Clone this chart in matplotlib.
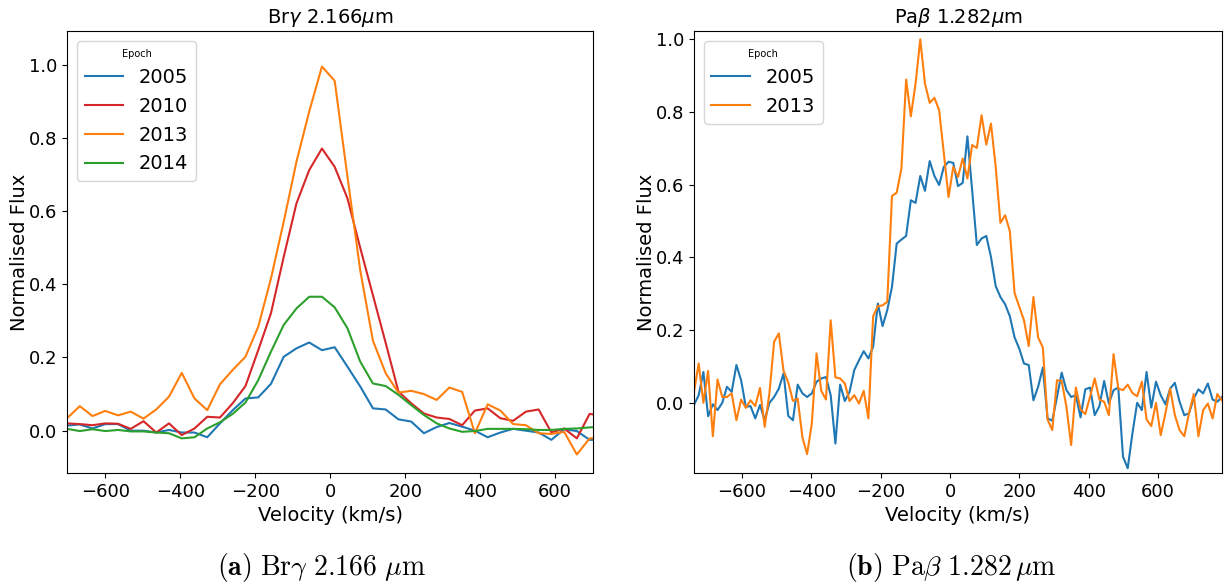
import matplotlib
matplotlib.use("Agg")
import matplotlib.pyplot as plt

# Br-gamma 2.166 um profiles (velocity in km/s, normalised flux)
bry_velocity = [-702, -668, -634, -600, -566, -532, -498, -464, -430, -396,
                -362, -328, -294, -260, -226, -192, -158, -124, -90, -56,
                -22, 12, 46, 80, 114, 148, 182, 216, 250, 284,
                318, 352, 386, 420, 454, 488, 522, 556, 590, 624,
                658, 692, 726]
bry_2005 = [0.014, 0.017, 0.006, 0.018, 0.018, 0.0, 0.0, -0.005, 0.002, -0.005,
            -0.005, -0.018, 0.020, 0.056, 0.088, 0.091, 0.128, 0.202, 0.225, 0.241,
            0.220, 0.228, 0.175, 0.121, 0.061, 0.058, 0.031, 0.025, -0.007, 0.010,
            0.021, 0.011, 0.000, -0.018, -0.005, 0.005, 0.0, -0.005, -0.025, 0.004,
            -0.001, -0.025, -0.025]
bry_2010 = [0.020, 0.018, 0.015, 0.020, 0.019, 0.005, 0.026, -0.005, 0.020, -0.012,
            0.006, 0.038, 0.036, 0.075, 0.122, 0.220, 0.321, 0.475, 0.621, 0.712,
            0.771, 0.721, 0.635, 0.50, 0.37, 0.24, 0.107, 0.075, 0.047, 0.036,
            0.032, 0.015, 0.055, 0.061, 0.034, 0.027, 0.052, 0.058, -0.005, 0.006,
            -0.021, 0.046, 0.040]
bry_2013 = [0.034, 0.067, 0.040, 0.054, 0.042, 0.052, 0.033, 0.058, 0.093, 0.158,
            0.088, 0.056, 0.127, 0.166, 0.202, 0.284, 0.416, 0.571, 0.735, 0.872,
            0.995, 0.956, 0.694, 0.439, 0.246, 0.157, 0.104, 0.109, 0.100, 0.084,
            0.118, 0.106, -0.007, 0.072, 0.055, 0.018, 0.015, -0.007, -0.009, -0.003,
            -0.065, -0.021, -0.020]
bry_2014 = [0.005, -0.001, 0.004, -0.001, 0.002, -0.002, -0.002, -0.005, -0.007, -0.021,
            -0.018, 0.006, 0.023, 0.046, 0.077, 0.138, 0.216, 0.289, 0.334, 0.366,
            0.366, 0.337, 0.28, 0.189, 0.129, 0.122, 0.098, 0.070, 0.043, 0.020,
            0.006, -0.003, -0.001, 0.005, 0.005, 0.005, 0.004, 0.002, 0.002, 0.005,
            0.006, 0.009, 0.011]

# Pa-beta 1.282 um profiles
pab_velocity = [-738.6, -725.0, -711.4, -697.8, -684.2, -670.6, -657.0, -643.4, -629.8, -616.2,
                -602.6, -589.0, -575.4, -561.8, -548.2, -534.6, -521.0, -507.4, -493.8, -480.2,
                -466.6, -453.0, -439.4, -425.8, -412.2, -398.6, -385.0, -371.4, -357.8, -344.2,
                -330.6, -317.0, -303.4, -289.8, -276.2, -262.6, -249.0, -235.4, -221.8, -208.2,
                -194.6, -181.0, -167.4, -153.8, -140.2, -126.6, -113.0, -99.4, -85.8, -72.2,
                -58.6, -45.0, -31.4, -17.8, -4.2, 9.4, 23.0, 36.6, 50.2, 63.8,
                77.4, 91.0, 104.6, 118.2, 131.8, 145.4, 159.0, 172.6, 186.2, 199.8,
                213.4, 227.0, 240.6, 254.2, 267.8, 281.4, 295.0, 308.6, 322.2, 335.8,
                349.4, 363.0, 376.6, 390.2, 403.8, 417.4, 431.0, 444.6, 458.2, 471.8,
                485.4, 499.0, 512.6, 526.2, 539.8, 553.4, 567.0, 580.6, 594.2, 607.8,
                621.4, 635.0, 648.6, 662.2, 675.8, 689.4, 703.0, 716.6, 730.2, 743.8,
                757.4, 771.0, 784.6]
pab_2005 = [-0.006, 0.021, 0.085, -0.037, -0.004, -0.020, 0.000, 0.044, 0.030, 0.104,
            0.062, -0.011, -0.009, -0.043, -0.006, -0.048, 0.000, 0.016, 0.039, 0.081,
            -0.036, -0.048, 0.050, 0.026, 0.016, 0.026, 0.058, 0.067, 0.071, 0.021,
            -0.112, 0.050, 0.005, 0.030, 0.090, 0.117, 0.142, 0.122, 0.154, 0.273,
            0.211, 0.255, 0.319, 0.438, 0.449, 0.459, 0.557, 0.550, 0.624, 0.583,
            0.665, 0.624, 0.599, 0.649, 0.663, 0.660, 0.596, 0.605, 0.733, 0.585,
            0.434, 0.452, 0.459, 0.401, 0.321, 0.291, 0.271, 0.238, 0.180, 0.149,
            0.108, 0.104, 0.007, 0.044, 0.097, -0.043, -0.049, 0.016, 0.083, 0.035,
            0.016, 0.021, -0.040, 0.037, 0.042, -0.034, -0.009, 0.060, -0.002, 0.035,
            0.042, -0.148, -0.180, -0.084, 0.000, -0.020, 0.085, -0.013, 0.058, 0.021,
            -0.004, 0.039, 0.055, 0.003, -0.034, -0.029, 0.012, 0.037, 0.026, 0.053,
            0.009, 0.003, 0.016]
pab_2013 = [0.030, 0.108, 0.000, 0.088, -0.092, 0.064, 0.016, 0.016, 0.026, -0.048,
            0.009, -0.014, 0.007, -0.009, 0.041, -0.066, 0.026, 0.168, 0.191, 0.088,
            0.056, 0.005, 0.012, -0.095, -0.141, -0.057, 0.136, 0.033, 0.009, 0.227,
            0.070, 0.067, 0.053, 0.005, 0.021, -0.002, 0.033, -0.043, 0.238, 0.266,
            0.268, 0.278, 0.569, 0.578, 0.644, 0.889, 0.788, 0.878, 1.000, 0.878,
            0.825, 0.839, 0.805, 0.686, 0.566, 0.649, 0.621, 0.672, 0.617, 0.709,
            0.701, 0.791, 0.710, 0.768, 0.649, 0.495, 0.516, 0.472, 0.302, 0.264,
            0.227, 0.156, 0.291, 0.180, 0.152, -0.046, -0.075, 0.062, 0.060, -0.011,
            -0.116, 0.042, -0.018, -0.031, 0.016, 0.067, 0.009, 0.003, -0.034, 0.134,
            0.039, 0.035, 0.050, 0.027, 0.018, 0.058, -0.046, -0.064, 0.000, -0.089,
            -0.029, 0.039, -0.034, -0.075, -0.092, -0.029, 0.024, -0.092, -0.020, -0.002,
            -0.043, 0.024, 0.007]

BLUE = "#1f77b4"
ORANGE = "#ff7f0e"
GREEN = "#2ca02c"
RED = "#d62728"
FS = 14

fig = plt.figure(figsize=(12.3, 5.83), dpi=100)
ax1 = fig.add_axes([0.0545, 0.1887, 0.4276, 0.758])
ax2 = fig.add_axes([0.5642, 0.1887, 0.4293, 0.758])

# Br gamma panel
ax1.plot(bry_velocity, bry_2005, color=BLUE, lw=1.5, label="2005")
ax1.plot(bry_velocity, bry_2010, color=RED, lw=1.5, label="2010")
ax1.plot(bry_velocity, bry_2013, color=ORANGE, lw=1.5, label="2013")
ax1.plot(bry_velocity, bry_2014, color=GREEN, lw=1.5, label="2014")
ax1.set_xlim(-702, 701)
ax1.set_ylim(-0.1156, 1.092)
ax1.set_title(r"Br$\gamma$ 2.166$\mu$m", fontsize=FS)
ax1.set_xlabel("Velocity (km/s)", fontsize=FS)
ax1.set_ylabel("Normalised Flux", fontsize=FS, labelpad=0)
ax1.tick_params(labelsize=13)
ax1.legend(title="Epoch", loc="upper left", fontsize=FS, title_fontsize=7)

# Pa beta panel
ax2.plot(pab_velocity, pab_2005, color=BLUE, lw=1.5, label="2005")
ax2.plot(pab_velocity, pab_2013, color=ORANGE, lw=1.5, label="2013")
ax2.set_xlim(pab_velocity[0], pab_velocity[-1])
ax2.set_ylim(-0.193, 1.0225)
ax2.set_title(r"Pa$\beta$ 1.282$\mu$m", fontsize=FS)
ax2.set_xlabel("Velocity (km/s)", fontsize=FS)
ax2.set_ylabel("Normalised Flux", fontsize=FS, labelpad=0)
ax2.tick_params(labelsize=13)
ax2.legend(title="Epoch", loc="upper left", fontsize=FS, title_fontsize=7)

# subfigure captions
fig.text(0.2614, 0.027, r"$\mathbf{(a)}\ \mathrm{Br}\gamma\ 2.166\ \mu\mathrm{m}$",
         ha="center", va="center", fontsize=20, math_fontfamily="cm")
fig.text(0.7736, 0.027, r"$\mathbf{(b)}\ \mathrm{Pa}\beta\ 1.282\,\mu\mathrm{m}$",
         ha="center", va="center", fontsize=20, math_fontfamily="cm")

fig.savefig("out.png", dpi=100)
